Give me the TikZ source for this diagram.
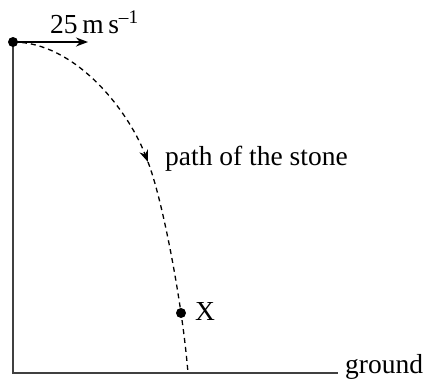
\documentclass[tikz,border=0pt]{standalone}
\usepackage{fontspec}
\setmainfont{Liberation Serif}
\usetikzlibrary{arrows.meta}
\begin{document}
\begin{tikzpicture}[x=1pt,y=-1pt,
  lbl/.style={inner sep=0pt,anchor=base west,font=\fontsize{27.5}{30}\selectfont},
  solidline/.style={line width=1.5pt,draw=black!75},
  pathline/.style={line width=1.3pt,dash pattern=on 5pt off 4pt},
  dot/.style={circle,fill=black,inner sep=0pt,minimum size=10pt},
  tip/.style={-{Stealth[length=12pt,width=9pt]}}]
\useasboundingbox (0,0) rectangle (424,389);
\coordinate (top) at (13,42);
\coordinate (bot) at (13,373);
\coordinate (gnd) at (338,373);
\coordinate (vend) at (88,42);
\coordinate (mid) at (148,162);
\coordinate (land) at (188,373);
\draw[solidline] (top) -- (bot) -- (gnd);
\draw[line width=1.5pt,tip] (top) -- (vend);
\draw[pathline,tip] (top) .. controls (75,42) and (128,110) .. (mid);
\draw[pathline] (mid) .. controls (162,198) and (182,300) .. (land);
\node[dot] (stone) at (top) {};
\node[dot] (xdot) at (181,313) {};
\node[lbl] (vlab) at (50,33) {25\,m\,s\textsuperscript{–1}};
\node[lbl] (plab) at (165,165) {path of the stone};
\node[lbl] (xlab) at (195,320) {X};
\node[lbl] (glab) at (345,373) {ground};
\end{tikzpicture}
\end{document}
